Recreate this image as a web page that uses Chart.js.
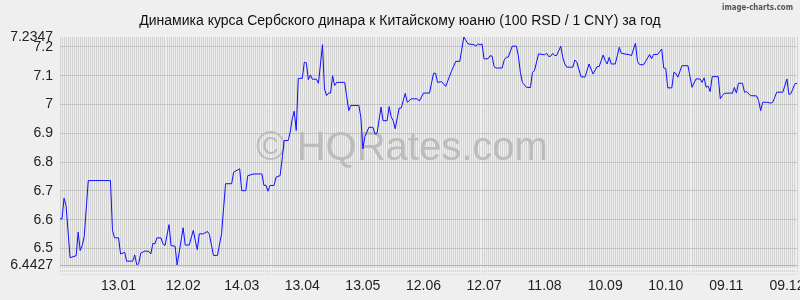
<!DOCTYPE html>
<html>
<head>
<meta charset="utf-8">
<script src="https://cdn.jsdelivr.net/npm/chart.js@4"></script>
<style>
  html, body { margin: 0; padding: 0; background: #efefef; }
  #wrap { width: 800px; height: 300px; }
</style>
</head>
<body>
<div id="wrap"><canvas id="chart" width="800" height="300"></canvas></div>
<script>
const TITLE = 'Динамика курса Сербского динара к Китайскому юаню (100 RSD / 1 CNY) за год';

// day number since 15.12 of previous year
const days = [
  0, 1, 2, 3, 5, 8, 9, 10, 11, 12,
  14, 25, 26, 27, 29, 30, 32, 33, 36, 37,
  38, 39, 40, 42, 44, 45, 46, 47, 48, 50,
  51, 52, 54, 55, 57, 58, 61, 62, 64, 66,
  67, 68, 69, 71, 73, 74, 76, 78, 80, 82,
  85, 86, 88, 89, 90, 92, 93, 96, 100, 101,
  102, 103, 104, 106, 107, 109, 110, 111, 113, 114,
  115, 116, 117, 118, 120, 121, 122, 123, 124, 125,
  127, 128, 130, 131, 132, 133, 134, 135, 136, 137,
  141, 143, 144, 148, 149, 150, 151, 153, 155, 156,
  157, 159, 160, 162, 163, 164, 165, 166, 168, 169,
  170, 171, 172, 174, 177, 178, 180, 183, 185, 186,
  187, 189, 191, 194, 196, 198, 200, 202, 205, 206,
  207, 208, 209, 210, 212, 213, 214, 215, 216, 219,
  220, 221, 222, 224, 226, 227, 228, 229, 231, 233,
  234, 235, 237, 240, 241, 242, 243, 244, 245, 246,
  248, 249, 250, 251, 254, 255, 256, 258, 260, 262,
  264, 266, 267, 269, 270, 271, 272, 273, 275, 276,
  277, 278, 282, 283, 285, 286, 287, 289, 290, 292,
  293, 294, 296, 298, 299, 300, 301, 303, 304, 305,
  306, 308, 311, 313, 315, 317, 318, 319, 320, 321,
  322, 323, 326, 327, 328, 329, 332, 333, 334, 335,
  336, 338, 339, 340, 342, 345, 346, 347, 348, 350,
  352, 353, 355, 358, 360, 361, 362, 364, 365
];

const rates = [
  6.603, 6.603, 6.675, 6.649, 6.468, 6.475, 6.557, 6.493, 6.510, 6.542,
  6.736, 6.736, 6.563, 6.537, 6.537, 6.481, 6.487, 6.456, 6.456, 6.478,
  6.444, 6.447, 6.484, 6.491, 6.490, 6.481, 6.518, 6.516, 6.537, 6.537,
  6.516, 6.510, 6.583, 6.510, 6.508, 6.4427, 6.572, 6.512, 6.512, 6.563,
  6.528, 6.496, 6.551, 6.551, 6.559, 6.549, 6.476, 6.476, 6.551, 6.725,
  6.725, 6.765, 6.773, 6.777, 6.701, 6.701, 6.753, 6.759, 6.759, 6.719,
  6.720, 6.699, 6.719, 6.719, 6.748, 6.753, 6.810, 6.875, 6.875, 6.904,
  6.950, 6.977, 6.910, 7.091, 7.091, 7.147, 7.145, 7.086, 7.103, 7.088,
  7.088, 7.074, 7.208, 7.054, 7.031, 7.040, 7.040, 7.100, 7.066, 7.077,
  7.077, 6.979, 6.997, 6.997, 6.956, 6.846, 6.889, 6.921, 6.921, 6.898,
  6.900, 6.991, 6.944, 6.944, 6.993, 6.958, 6.944, 6.916, 6.988, 6.988,
  7.014, 7.039, 7.008, 7.020, 7.020, 7.012, 7.040, 7.040, 7.109, 7.109,
  7.077, 7.080, 7.063, 7.118, 7.150, 7.150, 7.2347, 7.211, 7.208, 7.203,
  7.211, 7.207, 7.211, 7.159, 7.159, 7.170, 7.168, 7.132, 7.127, 7.127,
  7.155, 7.164, 7.165, 7.203, 7.203, 7.170, 7.112, 7.077, 7.060, 7.059,
  7.112, 7.118, 7.176, 7.173, 7.178, 7.167, 7.168, 7.178, 7.170, 7.171,
  7.203, 7.164, 7.141, 7.130, 7.130, 7.155, 7.147, 7.097, 7.095, 7.141,
  7.106, 7.132, 7.132, 7.172, 7.153, 7.141, 7.164, 7.141, 7.141, 7.170,
  7.199, 7.178, 7.173, 7.170, 7.213, 7.150, 7.139, 7.138, 7.150, 7.174,
  7.159, 7.174, 7.174, 7.193, 7.127, 7.125, 7.058, 7.058, 7.112, 7.108,
  7.095, 7.135, 7.135, 7.060, 7.089, 7.089, 7.077, 7.093, 7.060, 7.064,
  7.045, 7.097, 7.097, 7.020, 7.031, 7.039, 7.040, 7.039, 7.060, 7.040,
  7.074, 7.074, 7.043, 7.045, 7.031, 7.030, 7.014, 6.979, 7.008, 7.008,
  7.005, 7.008, 7.043, 7.043, 7.089, 7.035, 7.038, 7.072, 7.074
];

const tickDays = [29, 61, 90, 120, 150, 180, 210, 240, 270, 300, 330, 360];
const tickLabels = ['13.01', '12.02', '14.03', '13.04', '13.05', '12.06',
  '12.07', '11.08', '10.09', '10.10', '09.11', '09.12'];

const Y_MIN = 6.4427;
const Y_MAX = 7.2347;
const yTicks = [6.4427, 6.5, 6.6, 6.7, 6.8, 6.9, 7, 7.1, 7.2, 7.2347];

const FONT = "'Liberation Sans', Arial, sans-serif";

let points = days.map((d, i) => ({x: d, y: rates[i]}));

const decor = {
  id: 'decor',
  beforeDraw(chart) {
    const ctx = chart.ctx;
    ctx.save();
    ctx.fillStyle = '#efefef';
    ctx.fillRect(0, 0, chart.width, chart.height);
    ctx.restore();
  },
  beforeDatasetsDraw(chart) {
    const ctx = chart.ctx;
    ctx.save();
    ctx.font = '40px ' + FONT;
    ctx.fillStyle = '#bcbcbc';
    ctx.textAlign = 'center';
    ctx.textBaseline = 'alphabetic';
    ctx.fillText('\u00a9 HQRates.com', 402, 160);
    ctx.restore();
  },
  afterDraw(chart) {
    const ctx = chart.ctx;
    ctx.save();
    ctx.fillStyle = '#111';
    ctx.font = '14px ' + FONT;
    ctx.textAlign = 'center';
    ctx.textBaseline = 'alphabetic';
    ctx.fillText(TITLE, 400, 25);
    ctx.font = 'bold 9px "DejaVu Sans"';
    ctx.fillStyle = '#555';
    ctx.textAlign = 'left';
    ctx.fillText('image-charts.com', 722, 10, 71);
    ctx.restore();
  }
};

const labelFor = {};
tickDays.forEach((d, i) => labelFor[d] = tickLabels[i]);

new Chart(document.getElementById('chart'), {
  type: 'line',
  data: {
    datasets: [{
      data: points,
      borderColor: '#1010ff',
      borderWidth: 1,
      pointRadius: 0,
      tension: 0,
      fill: false
    }]
  },
  options: {
    responsive: false,
    animation: false,
    layout: {padding: {top: 37, right: 3, left: 0, bottom: 0}},
    plugins: {legend: {display: false}, tooltip: {enabled: false}},
    scales: {
      x: {
        type: 'linear',
        min: 0,
        max: 365,
        afterFit: scale => { scale.height = 35; },
        border: {display: true, color: '#b4b4b4', width: 1},
        grid: {
          color: '#d2d2d2',
          lineWidth: 1,
          borderDash: [5, 3],
          drawTicks: true,
          tickLength: 10,
          tickColor: '#d2d2d2',
          tickBorderDash: [2, 2]
        },
        ticks: {
          stepSize: 1,
          autoSkip: false,
          maxRotation: 0,
          padding: 3,
          color: '#222',
          font: {family: FONT, size: 14},
          callback: value => labelFor[value] || ''
        }
      },
      y: {
        type: 'linear',
        min: Y_MIN,
        max: Y_MAX,
        afterFit: scale => { scale.width = 60; },
        afterBuildTicks: scale => {
          scale.ticks = yTicks.map(v => ({value: v}));
        },
        border: {display: false},
        grid: {
          color: ctx => (ctx.tick && (ctx.tick.value === Y_MIN || ctx.tick.value === Y_MAX)) ? 'rgba(0,0,0,0)' : '#c4c4c4',
          borderDash: [6, 4],
          drawTicks: false
        },
        ticks: {
          padding: 7,
          color: '#222',
          font: {family: FONT, size: 14},
          callback: value => String(value)
        }
      }
    }
  },
  plugins: [decor]
});
</script>
</body>
</html>
